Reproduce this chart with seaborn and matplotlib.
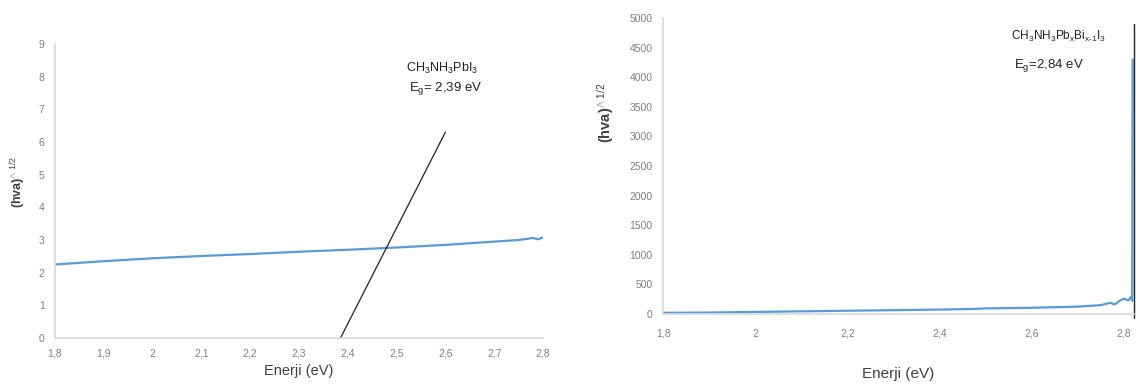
import matplotlib
matplotlib.use("Agg")
import matplotlib.pyplot as plt
import seaborn as sns
import pandas as pd

# ---- data ----
left_energy = [1.80, 1.90, 2.00, 2.10, 2.20, 2.30, 2.40, 2.50, 2.60, 2.70, 2.75, 2.78, 2.79, 2.80]
left_signal = [2.25, 2.35, 2.44, 2.51, 2.57, 2.64, 2.70, 2.77, 2.85, 2.95, 3.00, 3.06, 3.02, 3.08]
left_tangent_x = [2.385, 2.60]
left_tangent_y = [0.0, 6.3]
left_xticks = [1.8, 1.9, 2.0, 2.1, 2.2, 2.3, 2.4, 2.5, 2.6, 2.7, 2.8]
left_xticklabels = ["1,8", "1,9", "2", "2,1", "2,2", "2,3", "2,4", "2,5", "2,6", "2,7", "2,8"]
left_yticks = [0, 1, 2, 3, 4, 5, 6, 7, 8, 9]

right_energy = [1.80, 1.90, 2.00, 2.10, 2.20, 2.30, 2.40, 2.47, 2.50, 2.60, 2.70, 2.75,
                2.77, 2.78, 2.79, 2.80, 2.81, 2.815, 2.818, 2.819]
right_signal = [20, 25, 35, 45, 55, 65, 75, 85, 95, 105, 125, 150,
                190, 160, 220, 260, 230, 290, 220, 4300]
right_vline_x = [2.821, 2.821]
right_vline_y = [-70, 4900]
right_xticks = [1.8, 2.0, 2.2, 2.4, 2.6, 2.8]
right_xticklabels = ["1,8", "2", "2,2", "2,4", "2,6", "2,8"]
right_yticks = [0, 500, 1000, 1500, 2000, 2500, 3000, 3500, 4000, 4500, 5000]

sns.set_theme(style="white")
plt.rcParams["font.family"] = ["Liberation Sans", "DejaVu Sans"]
plt.rcParams["mathtext.fontset"] = "custom"
plt.rcParams["mathtext.rm"] = "Liberation Sans"
plt.rcParams["mathtext.it"] = "Liberation Sans"
plt.rcParams["mathtext.bf"] = "Liberation Sans:bold"

fig = plt.figure(figsize=(11.41, 3.86), dpi=100)
ax1 = fig.add_axes([0.0482, 0.1244, 0.4277, 0.7617])
ax2 = fig.add_axes([0.5811, 0.1865, 0.4128, 0.7668])

blue = "#5b9bd5"
spine_c = "#d9d9d9"
tick_c = "#7f7f7f"
label_c = "#404040"
txt_c = "#222222"

df1 = pd.DataFrame({"x": left_energy, "y": left_signal})
sns.lineplot(data=df1, x="x", y="y", ax=ax1, color=blue, lw=1.6)
ax1.plot(left_tangent_x, left_tangent_y, color=txt_c, lw=0.9, clip_on=False)
ax1.set_xlim(1.8, 2.8)
ax1.set_ylim(0, 9)
ax1.set_xticks(left_xticks)
ax1.set_xticklabels(left_xticklabels, va="baseline")
ax1.set_yticks(left_yticks)
ax1.set_xlabel("Enerji (eV)", fontsize=10.5, color=label_c, labelpad=4)
ax1.set_ylabel(r"(hva)$^{\wedge\ 1/2}$", fontsize=9, color=label_c, fontweight="bold")
ax1.yaxis.set_label_coords(-0.056, 0.53)
ax1.text(2.52, 8.26, r"CH$_3$NH$_3$PbI$_3$", fontsize=9, color=txt_c, ha="left", va="center")
ax1.text(2.526, 7.64, r"E$_g$= 2,39 eV", fontsize=9.5, color=txt_c, ha="left", va="center")
ax1.tick_params(axis="x", pad=13.5)

df2 = pd.DataFrame({"x": right_energy, "y": right_signal})
sns.lineplot(data=df2, x="x", y="y", ax=ax2, color=blue, lw=1.6)
ax2.plot(right_vline_x, right_vline_y, color=txt_c, lw=1.0, clip_on=False)
ax2.set_xlim(1.8, 2.822)
ax2.set_ylim(0, 5000)
ax2.set_xticks(right_xticks)
ax2.set_xticklabels(right_xticklabels, va="baseline")
ax2.set_yticks(right_yticks)
ax2.set_xlabel("Enerji (eV)", fontsize=11, color=label_c, labelpad=20)
ax2.set_ylabel(r"(hva)$^{\wedge\ 1/2}$", fontsize=10.5, color=label_c, fontweight="bold")
ax2.yaxis.set_label_coords(-0.10, 0.68)
ax2.text(2.555, 4693, r"CH$_3$NH$_3$Pb$_x$Bi$_{x\text{-}1}$I$_3$", fontsize=8.5, color=txt_c, ha="left", va="center")
ax2.text(2.561, 4190, r"E$_g$=2,84 eV", fontsize=9.5, color=txt_c, ha="left", va="center")
ax2.tick_params(axis="x", pad=16.5)

for ax in (ax1, ax2):
    for s in ("top", "right"):
        ax.spines[s].set_visible(False)
    for s in ("left", "bottom"):
        ax.spines[s].set_color(spine_c)
        ax.spines[s].set_linewidth(1.2)
    ax.tick_params(axis="both", length=0, labelsize=7.5, colors=tick_c)
    ax.tick_params(axis="y", pad=7.5)
    ax.grid(False)

fig.savefig("out.png", dpi=100)
